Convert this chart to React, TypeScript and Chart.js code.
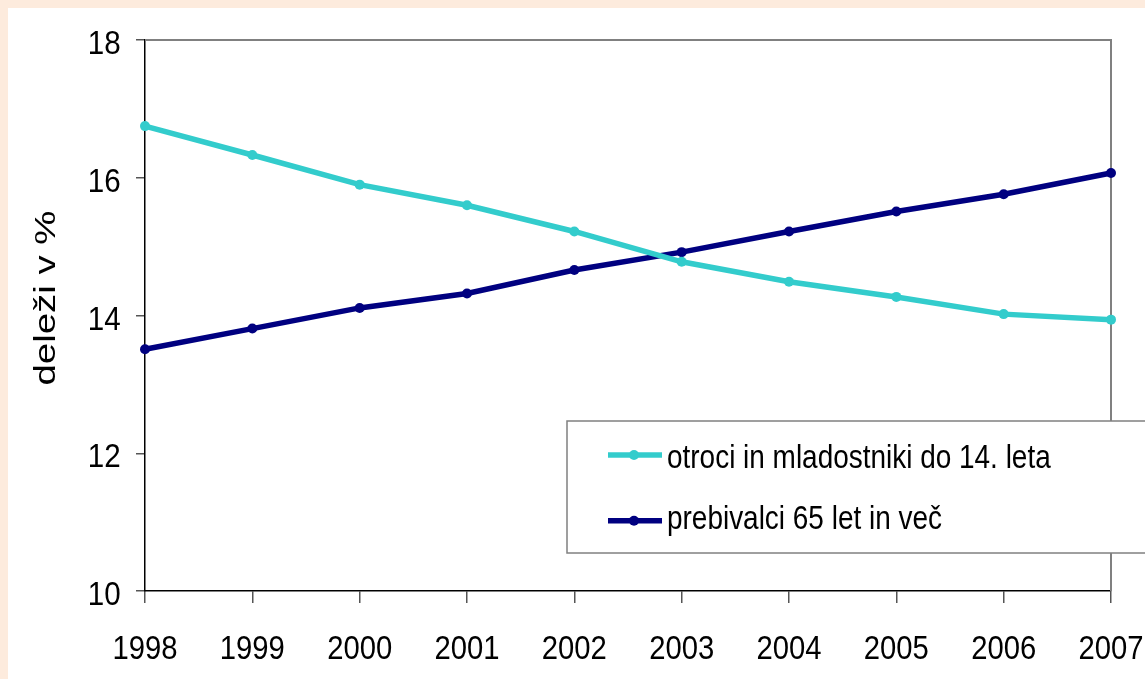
import { useEffect, useRef } from 'react';
import { Chart, registerables } from 'chart.js';

Chart.register(...registerables);

const years = ['1998', '1999', '2000', '2001', '2002', '2003', '2004', '2005', '2006', '2007'];
const childrenShare = [16.75, 16.33, 15.9, 15.6, 15.22, 14.78, 14.49, 14.27, 14.02, 13.94];
const elderlyShare = [13.51, 13.81, 14.11, 14.32, 14.66, 14.92, 15.22, 15.51, 15.76, 16.07];
const yMin = 10;
const yMax = 18;
const yStep = 2;
const seriesLabels = ['otroci in mladostniki do 14. leta', 'prebivalci 65 let in več'];
const seriesColors = ['#33CCCC', '#000080'];
const axisTitle = 'deleži v %';

const FONT = '"Liberation Sans", Arial, sans-serif';

// draws horizontally condensed text (the reference uses a narrow-looking font)
function drawText(ctx: any, text: string, x: number, y: number, size: number, sx: number, align: string) {
  ctx.save();
  ctx.translate(x, y);
  ctx.scale(sx, 1);
  ctx.font = size + 'px ' + FONT;
  ctx.fillStyle = '#000000';
  ctx.textAlign = align;
  ctx.textBaseline = 'alphabetic';
  ctx.fillText(text, 0, 0);
  ctx.restore();
}

const bgPlugin = {
  id: 'bgPlugin',
  beforeDraw(chart: any) {
    const { ctx, width, height } = chart;
    ctx.save();
    ctx.fillStyle = '#ffffff';
    ctx.fillRect(0, 0, width, height);
    ctx.restore();
  },
  beforeDatasetsDraw(chart: any) {
    const { ctx, chartArea } = chart;
    ctx.save();
    ctx.strokeStyle = '#808080';
    ctx.lineWidth = 2;
    ctx.beginPath();
    ctx.moveTo(chartArea.left, chartArea.top);
    ctx.lineTo(chartArea.right, chartArea.top);
    ctx.lineTo(chartArea.right, chartArea.bottom);
    ctx.stroke();
    ctx.restore();
  },
};

const labelsPlugin = {
  id: 'labelsPlugin',
  afterDraw(chart: any) {
    const { ctx } = chart;
    const xs = chart.scales.x;
    const ys = chart.scales.y;
    xs.ticks.forEach((t: any, i: number) => {
      const px = xs.getPixelForTick(i);
      drawText(ctx, String(xs.getLabelForValue(t.value)), px, 651, 34, 0.86, 'center');
    });
    ys.ticks.forEach((t: any) => {
      const py = ys.getPixelForValue(t.value);
      drawText(ctx, String(t.value), 112.7, py + 14, 34, 0.87, 'right');
    });
    // rotated axis title
    ctx.save();
    ctx.translate(47, 290);
    ctx.rotate(-Math.PI / 2);
    ctx.scale(1.28, 1);
    ctx.font = '30px ' + FONT;
    ctx.fillStyle = '#000';
    ctx.textAlign = 'center';
    ctx.textBaseline = 'alphabetic';
    ctx.fillText(axisTitle, 0, 0);
    ctx.restore();
  },
};

const legendPlugin = {
  id: 'legendPlugin',
  afterDraw(chart: any) {
    const { ctx } = chart;
    ctx.save();
    ctx.fillStyle = '#ffffff';
    ctx.fillRect(559, 413, 640, 132);
    ctx.strokeStyle = '#808080';
    ctx.lineWidth = 1.5;
    ctx.strokeRect(559, 413, 640, 132);
    const rows = [
      { y: 447, base: 460 },
      { y: 512.7, base: 521 },
    ];
    chart.data.datasets.forEach((ds: any, i: number) => {
      const r = rows[i];
      ctx.strokeStyle = ds.borderColor;
      ctx.lineWidth = 5.5;
      ctx.beginPath();
      ctx.moveTo(600, r.y);
      ctx.lineTo(654, r.y);
      ctx.stroke();
      ctx.fillStyle = ds.borderColor;
      ctx.beginPath();
      ctx.arc(626, r.y, 5, 0, Math.PI * 2);
      ctx.fill();
      drawText(ctx, ds.label, 659, r.base, 34, 0.822, 'left');
    });
    ctx.restore();
  },
};

export default function App() {
  const ref = useRef<HTMLCanvasElement>(null);

  useEffect(() => {
    document.body.style.background = '#FDEBDD';
    document.body.style.margin = '8px 0 0 8px';
    document.documentElement.style.overflow = 'hidden';
    const canvas = ref.current;
    if (!canvas) return;
    const mkDataset = (label: string, data: number[], color: string) => ({
      label,
      data,
      borderColor: color,
      backgroundColor: color,
      borderWidth: 5.5,
      pointRadius: 5,
      pointBorderWidth: 0,
      pointHoverRadius: 5,
      tension: 0,
      fill: false,
      clip: false as any,
    });
    const chart = new Chart(canvas, {
      type: 'line',
      data: {
        labels: years,
        datasets: [
          mkDataset(seriesLabels[0], childrenShare, seriesColors[0]),
          mkDataset(seriesLabels[1], elderlyShare, seriesColors[1]),
        ],
      },
      options: {
        animation: false,
        responsive: true,
        maintainAspectRatio: false,
        layout: { padding: { top: 32, right: 34, left: 0, bottom: 0 } },
        plugins: {
          legend: { display: false },
          tooltip: { enabled: false },
          title: { display: false },
        },
        scales: {
          x: {
            type: 'category',
            offset: false,
            grid: {
              display: true,
              drawOnChartArea: false,
              drawTicks: true,
              tickLength: 12,
              color: '#555555',
              lineWidth: 1.5,
            },
            border: { display: true, color: '#000000', width: 1.5 },
            ticks: { display: false, autoSkip: false, maxRotation: 0 },
            afterFit(scale: any) {
              scale.height = 88;
            },
          },
          y: {
            min: yMin,
            max: yMax,
            grid: {
              display: true,
              drawOnChartArea: false,
              drawTicks: true,
              tickLength: 9,
              color: '#555555',
              lineWidth: 1.5,
            },
            border: { display: true, color: '#000000', width: 1.5 },
            ticks: { display: false, stepSize: yStep },
            afterFit(scale: any) {
              scale.width = 137;
            },
          },
        },
      },
      plugins: [bgPlugin, labelsPlugin, legendPlugin],
    });
    return () => chart.destroy();
  }, []);

  return (
    <div style={{ position: 'relative', width: '1137px', height: '671px' }}>
      <canvas ref={ref} />
    </div>
  );
}
